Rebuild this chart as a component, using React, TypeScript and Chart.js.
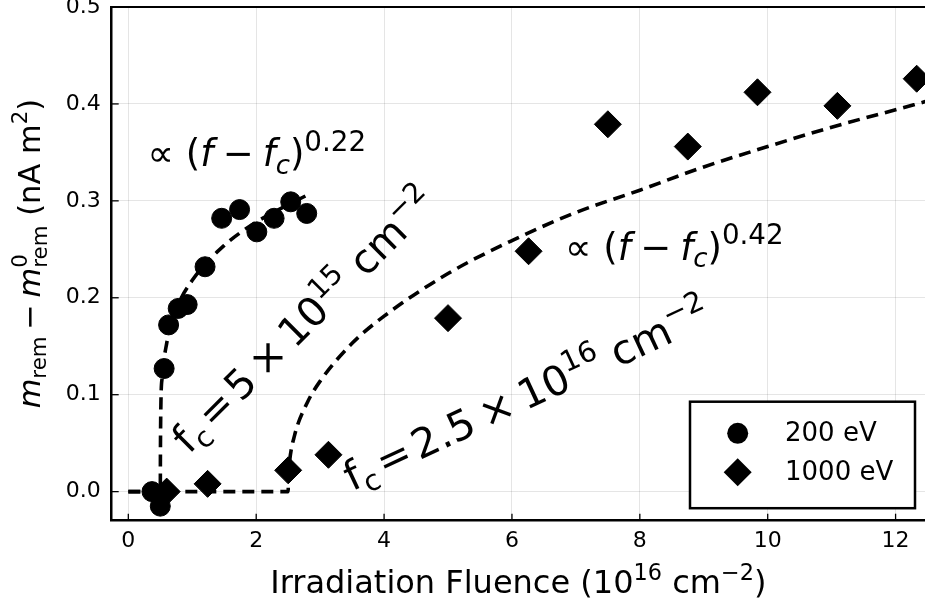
import React, { useEffect, useRef } from 'react';
import { Chart, registerables } from 'chart.js';

Chart.register(...registerables);

const FONT = '"DejaVu Sans", "Noto Sans", sans-serif';

// ---- data ----
// 200 eV measurements
const fluence200 = [0.37, 0.50, 0.56, 0.63, 0.78, 0.92, 1.20, 1.46, 1.74, 2.01, 2.28, 2.54, 2.79];
const moment200 = [0.000, -0.015, 0.127, 0.172, 0.189, 0.193, 0.232, 0.282, 0.291, 0.268, 0.282, 0.299, 0.287];
// 1000 eV measurements
const fluence1000 = [0.60, 1.24, 2.50, 3.13, 5.00, 6.26, 7.50, 8.75, 9.84, 11.09, 12.33];
const moment1000 = [0.000, 0.008, 0.022, 0.038, 0.179, 0.248, 0.379, 0.356, 0.412, 0.398, 0.426];
// fitted curve, 200 eV (dashed)
const fitLowX = [0, 0.50, 0.502, 0.51, 0.53, 0.60, 0.75, 1.00, 1.50, 2.00, 2.50, 2.80];
const fitLowY = [0, 0, 0.039, 0.092, 0.118, 0.153, 0.188, 0.218, 0.254, 0.278, 0.296, 0.306];
// fitted curve, 1000 eV (dashed)
const fitHighX = [0, 2.50, 2.505, 2.52, 2.60, 2.80, 3.00, 3.50, 4.00, 5.00, 6.00, 7.00, 8.00, 9.00, 10.00, 11.00, 12.00, 12.50];
const fitHighY = [0, 0, 0.017, 0.030, 0.058, 0.092, 0.114, 0.153, 0.181, 0.225, 0.259, 0.288, 0.311, 0.335, 0.356, 0.376, 0.394, 0.403];

const seriesLabels = ['200 eV', '1000 eV'];
const xRange = [-0.26, 12.46];
const yRange = [-0.03, 0.5];
const xStep = 2;
const yStep = 0.1;

type Seg = { t?: string; italic?: boolean; sub?: boolean; sup?: boolean; gap?: number; stack?: [string, string]; scale?: number };

const yTitle: Seg[] = [
  { t: 'm', italic: true }, { t: 'rem', sub: true },
  { t: '\u2212', gap: 0.22 }, { t: 'm', italic: true, gap: 0.22 },
  { stack: ['0', 'rem'] }, { t: ' (nA m' }, { t: '2', sup: true }, { t: ')' },
];
const xTitle: Seg[] = [
  { t: 'Irradiation Fluence (10' }, { t: '16', sup: true }, { t: ' cm' }, { t: '\u22122', sup: true }, { t: ')' },
];
const lawLow: Seg[] = [
  { t: '\u221D' }, { t: ' (' }, { t: 'f', italic: true }, { t: '\u2212', gap: 0.26 },
  { t: 'f', italic: true, gap: 0.24 }, { t: 'c', italic: true, sub: true }, { t: ')' }, { t: '0.22', sup: true, scale: 0.75 },
];
const lawHigh: Seg[] = [
  { t: '\u221D' }, { t: ' (' }, { t: 'f', italic: true }, { t: '\u2212', gap: 0.26 },
  { t: 'f', italic: true, gap: 0.24 }, { t: 'c', italic: true, sub: true }, { t: ')' }, { t: '0.42', sup: true, scale: 0.75 },
];
const fcLow: Seg[] = [
  { t: 'f' }, { t: 'c', sub: true }, { t: '=', gap: 0.12 }, { t: '5', gap: 0.12 },
  { t: '\u00D7', gap: 0.2 }, { t: '10', gap: 0.2 }, { t: '15', sup: true }, { t: ' cm' }, { t: '\u22122', sup: true },
];
const fcHigh: Seg[] = [
  { t: 'f' }, { t: 'c', sub: true }, { t: '=', gap: 0.12 }, { t: '2.5', gap: 0.12 },
  { t: '\u00D7', gap: 0.22 }, { t: '10', gap: 0.22 }, { t: '16', sup: true }, { t: ' cm' }, { t: '\u22122', sup: true },
];

function segFont(s: Seg, size: number) {
  const fs = s.sub || s.sup || s.stack ? size * (s.scale || 0.7) : size;
  return `${s.italic ? 'italic ' : ''}${fs}px ${FONT}`;
}
function segWidth(ctx: CanvasRenderingContext2D, s: Seg, size: number) {
  ctx.font = segFont(s, size);
  if (s.stack) return Math.max(ctx.measureText(s.stack[0]).width, ctx.measureText(s.stack[1]).width);
  return ctx.measureText(s.t || '').width;
}
function drawRich(ctx: CanvasRenderingContext2D, segs: Seg[], x: number, y: number, size: number, angle: number, align: 'left' | 'center') {
  ctx.save();
  ctx.translate(x, y);
  ctx.rotate((angle * Math.PI) / 180);
  let w = 0;
  for (const s of segs) w += (s.gap || 0) * size + segWidth(ctx, s, size);
  let cx = align === 'center' ? -w / 2 : 0;
  ctx.textAlign = 'left';
  ctx.textBaseline = 'alphabetic';
  ctx.fillStyle = '#000';
  for (const s of segs) {
    cx += (s.gap || 0) * size;
    const sw = segWidth(ctx, s, size);
    ctx.font = segFont(s, size);
    if (s.stack) {
      ctx.fillText(s.stack[0], cx, -0.42 * size);
      ctx.fillText(s.stack[1], cx, 0.22 * size);
    } else {
      const dy = s.sup ? -0.42 * size : s.sub ? 0.2 * size : 0;
      ctx.fillText(s.t || '', cx, dy);
    }
    cx += sw;
  }
  ctx.restore();
}

function circle(ctx: CanvasRenderingContext2D, x: number, y: number, r: number) {
  ctx.beginPath();
  ctx.arc(x, y, r, 0, Math.PI * 2);
  ctx.fill();
}
function diamond(ctx: CanvasRenderingContext2D, x: number, y: number, r: number) {
  ctx.beginPath();
  ctx.moveTo(x - r, y);
  ctx.lineTo(x, y - r);
  ctx.lineTo(x + r, y);
  ctx.lineTo(x, y + r);
  ctx.closePath();
  ctx.fill();
}

const decorPlugin = {
  id: 'decor',
  afterDatasetsDraw(chart: any) {
    const { ctx, chartArea: a, scales } = chart;
    const xs = scales.x, ys = scales.y;
    ctx.save();
    // frame top line
    ctx.strokeStyle = '#000';
    ctx.lineWidth = 2.2;
    ctx.beginPath();
    ctx.moveTo(a.left, a.top);
    ctx.lineTo(a.right, a.top);
    ctx.stroke();
    // inward ticks
    ctx.lineWidth = 1.3;
    for (const t of xs.ticks) {
      const px = xs.getPixelForValue(t.value);
      ctx.beginPath(); ctx.moveTo(px, a.bottom); ctx.lineTo(px, a.bottom - 7); ctx.stroke();
    }
    for (const t of ys.ticks) {
      const py = ys.getPixelForValue(t.value);
      ctx.beginPath(); ctx.moveTo(a.left, py); ctx.lineTo(a.left + 7, py); ctx.stroke();
    }
    // annotations
    drawRich(ctx, lawLow, xs.getPixelForValue(0.30), ys.getPixelForValue(0.3356), 37, 0, 'left');
    drawRich(ctx, lawHigh, xs.getPixelForValue(6.83), ys.getPixelForValue(0.2393), 37, 0, 'left');
    drawRich(ctx, fcLow, xs.getPixelForValue(0.95), ys.getPixelForValue(0.038), 40.5, -45, 'left');
    drawRich(ctx, fcHigh, xs.getPixelForValue(3.50), ys.getPixelForValue(0.000), 41, -25, 'left');
    // legend
    const lx = a.right - 235, ly = a.bottom - 119, lw = 225, lh = 106.5;
    ctx.fillStyle = '#fff';
    ctx.fillRect(lx, ly, lw, lh);
    ctx.lineWidth = 2.5;
    ctx.strokeStyle = '#000';
    ctx.strokeRect(lx, ly, lw, lh);
    ctx.fillStyle = '#000';
    circle(ctx, lx + 47.7, ly + 31.6, 10.5);
    diamond(ctx, lx + 47.7, ly + 70.6, 14);
    ctx.font = `26px ${FONT}`;
    ctx.textBaseline = 'middle';
    ctx.textAlign = 'left';
    ctx.fillText(seriesLabels[0], lx + 95, ly + 32.5);
    ctx.fillText(seriesLabels[1], lx + 95, ly + 71.5);
    ctx.restore();
    // axis titles
    drawRich(ctx, xTitle, (a.left + a.right) / 2, 593, 32, 0, 'center');
    drawRich(ctx, yTitle, 40, a.top + (a.bottom - a.top) * 0.48, 30.5, -90, 'center');
  },
};

export default function App() {
  const ref = useRef<HTMLCanvasElement | null>(null);
  useEffect(() => {
    document.body.style.margin = '0';
    const canvas = ref.current;
    if (!canvas) return;
    const pts = (xs: number[], ys: number[]) => xs.map((x, i) => ({ x, y: ys[i] }));
    const chart = new Chart(canvas, {
      type: 'scatter',
      data: {
        datasets: [
          {
            label: seriesLabels[0],
            data: pts(fluence200, moment200),
            pointStyle: 'circle',
            pointRadius: 10,
            pointBorderWidth: 1,
            backgroundColor: '#000',
            borderColor: '#000',
            showLine: false,
          },
          {
            label: seriesLabels[1],
            data: pts(fluence1000, moment1000),
            pointStyle: 'rectRot',
            pointRadius: 13.5,
            pointBorderWidth: 1,
            backgroundColor: '#000',
            borderColor: '#000',
            showLine: false,
          },
          {
            label: 'fit 200 eV',
            type: 'line',
            data: pts(fitLowX, fitLowY),
            borderColor: '#000',
            borderWidth: 3.6,
            borderDash: [12, 7],
            pointRadius: 0,
            fill: false,
            cubicInterpolationMode: 'monotone',
          } as any,
          {
            label: 'fit 1000 eV',
            type: 'line',
            data: pts(fitHighX, fitHighY),
            borderColor: '#000',
            borderWidth: 3.6,
            borderDash: [12, 7],
            pointRadius: 0,
            fill: false,
            cubicInterpolationMode: 'monotone',
          } as any,
        ],
      },
      options: {
        responsive: false,
        animation: false,
        events: [],
        layout: { autoPadding: false, padding: { top: 7, right: 0, left: 0, bottom: 0 } },
        plugins: { legend: { display: false }, tooltip: { enabled: false } },
        scales: {
          x: {
            type: 'linear',
            min: xRange[0],
            max: xRange[1],
            ticks: { stepSize: xStep, includeBounds: false, color: '#000', font: { family: FONT, size: 22 }, padding: 7, maxRotation: 0 },
            grid: { color: 'rgba(0,0,0,0.1)', drawTicks: false, lineWidth: 1 },
            border: { color: '#000', width: 2.5 },
            afterFit: (s: any) => { s.height = 84.3; s.paddingLeft = 0; s.paddingRight = 0; },
          },
          y: {
            type: 'linear',
            min: yRange[0],
            max: yRange[1],
            ticks: {
              stepSize: yStep, includeBounds: false, color: '#000', font: { family: FONT, size: 22 }, padding: 11,
              callback: (v: any) => Number(v).toFixed(1),
            },
            grid: { color: 'rgba(0,0,0,0.1)', drawTicks: false, lineWidth: 1 },
            border: { color: '#000', width: 2.5 },
            afterFit: (s: any) => { s.width = 111.7; s.paddingTop = 0; s.paddingBottom = 0; },
          },
        },
      } as any,
      plugins: [decorPlugin],
    });
    return () => chart.destroy();
  }, []);
  return (
    <div style={{ width: 925, height: 605 }}>
      <canvas ref={ref} width={925} height={605} style={{ display: 'block' }} />
    </div>
  );
}
